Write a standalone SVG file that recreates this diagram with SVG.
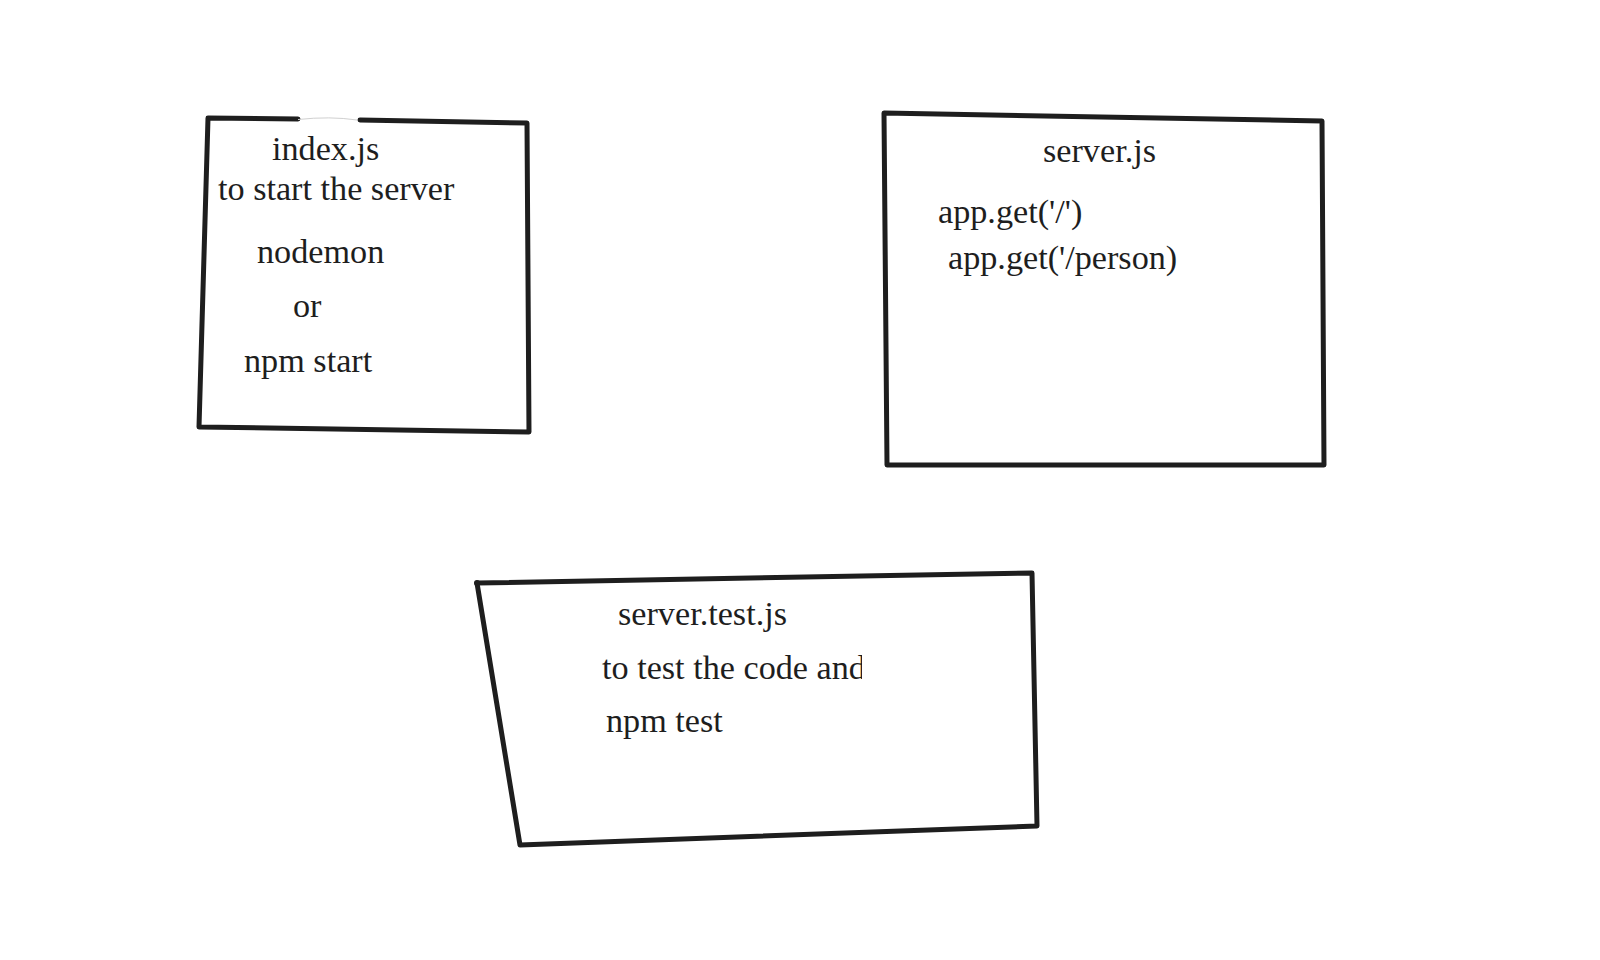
<svg xmlns="http://www.w3.org/2000/svg" width="1600" height="960" viewBox="0 0 1600 960">
  <style>
    .shape { fill: none; stroke: #1e1e1e; stroke-width: 5; stroke-linecap: round; stroke-linejoin: round; }
    .faint { fill: none; stroke: #d0d0d0; stroke-width: 1; }
    .lbl { font-family: "Liberation Serif", "Times New Roman", serif; font-size: 34.2px; fill: #1e1e1e; }
  </style>
  <defs>
    <clipPath id="clipAnd">
      <rect x="590" y="640" width="272" height="60"/>
    </clipPath>
  </defs>
  <rect x="0" y="0" width="1600" height="960" fill="#ffffff"/>

  <g id="index-js">
    <path class="shape" d="M 298 119 L 208 118 L 199 427 L 529 432 L 527 123 L 360 120"/>
    <path class="faint" d="M 298 119.5 Q 330 116 357 120"/>
    <text class="lbl" x="272" y="160">index.js</text>
    <text class="lbl" x="218" y="200">to start the server</text>
    <text class="lbl" x="257" y="263">nodemon</text>
    <text class="lbl" x="293" y="317">or</text>
    <text class="lbl" x="244" y="372">npm start</text>
  </g>

  <g id="server-js">
    <path class="shape" d="M 884 113 L 1322 121 L 1324 465 L 887 465 Z"/>
    <text class="lbl" x="1043" y="162">server.js</text>
    <text class="lbl" x="938" y="223">app.get('/')</text>
    <text class="lbl" x="948" y="269">app.get('/person)</text>
  </g>

  <g id="server-test-js">
    <path class="shape" d="M 477 583 L 1032 573 L 1037 826 L 520 845 Z"/>
    <circle cx="477" cy="583" r="3" fill="#1e1e1e"/>
    <text class="lbl" x="618" y="625">server.test.js</text>
    <text class="lbl" x="602" y="679" clip-path="url(#clipAnd)">to test the code and</text>
    <text class="lbl" x="606" y="732">npm test</text>
  </g>

  <g id="connectors"></g>
</svg>
